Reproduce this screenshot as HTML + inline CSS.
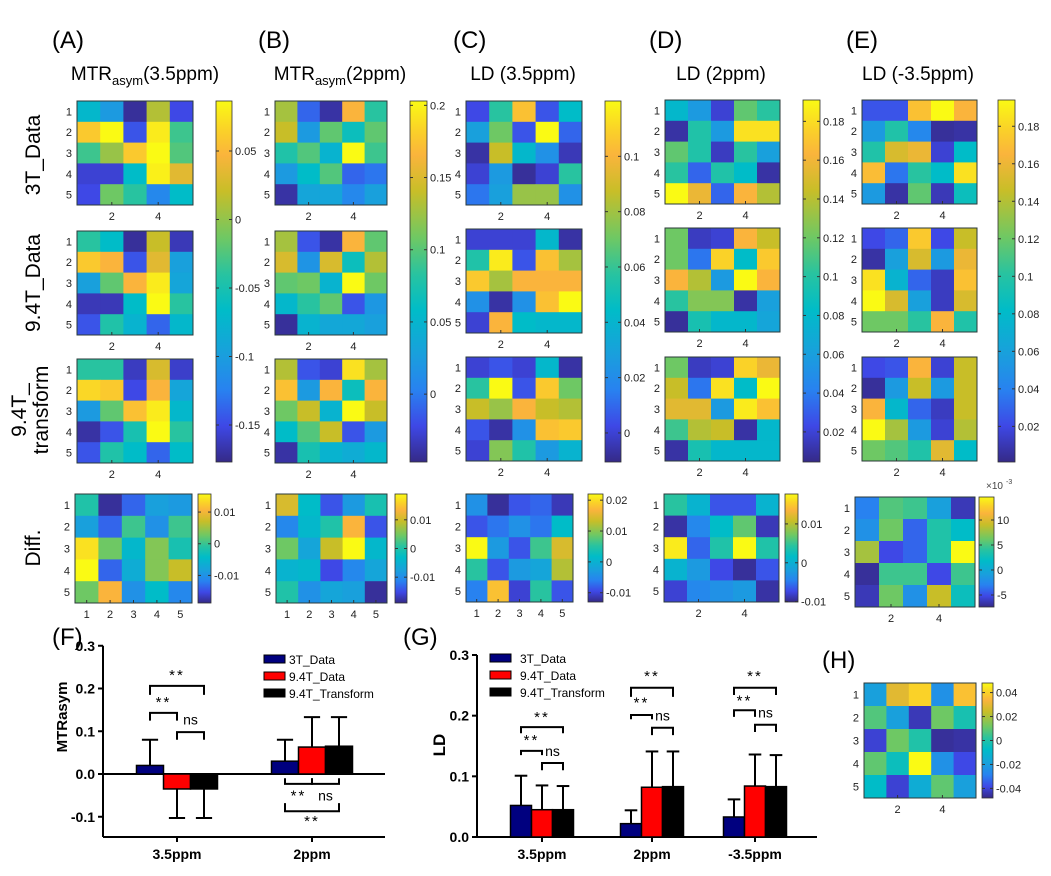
<!DOCTYPE html>
<html><head><meta charset="utf-8"><style>
body{margin:0;background:#fff}
svg{display:block;font-family:"Liberation Sans",Arial,sans-serif}
</style></head><body>
<svg id="fig" width="1051" height="876" viewBox="0 0 1051 876" xmlns="http://www.w3.org/2000/svg">
<rect width="1051" height="876" fill="#fff"/>
<defs><linearGradient id="par" x1="0" y1="1" x2="0" y2="0">
<stop offset="0" stop-color="rgb(53,42,135)"/><stop offset="0.1" stop-color="rgb(62,72,230)"/><stop offset="0.2" stop-color="rgb(40,130,240)"/><stop offset="0.3" stop-color="rgb(25,160,220)"/><stop offset="0.42" stop-color="rgb(0,188,200)"/><stop offset="0.52" stop-color="rgb(40,195,160)"/><stop offset="0.62" stop-color="rgb(110,200,100)"/><stop offset="0.75" stop-color="rgb(200,190,40)"/><stop offset="0.85" stop-color="rgb(250,180,60)"/><stop offset="0.92" stop-color="rgb(250,210,40)"/><stop offset="1" stop-color="rgb(250,250,20)"/>
</linearGradient></defs>
<g font-size="24">
<text x="52" y="48">(A)</text>
<text x="258" y="48">(B)</text>
<text x="453" y="48">(C)</text>
<text x="649" y="48">(D)</text>
<text x="846" y="48">(E)</text>
<text x="52" y="645">(F)</text>
<text x="403" y="645">(G)</text>
<text x="822" y="668">(H)</text>
</g>
<g font-size="19" text-anchor="middle">
<text x="145" y="80">MTR<tspan font-size="13" dy="5">asym</tspan><tspan dy="-5">(3.5ppm)</tspan></text>
<text x="340" y="80">MTR<tspan font-size="13" dy="5">asym</tspan><tspan dy="-5">(2ppm)</tspan></text>
<text x="523" y="80">LD (3.5ppm)</text>
<text x="721" y="80">LD (2ppm)</text>
<text x="918" y="80">LD (-3.5ppm)</text>
</g>
<g font-size="21" text-anchor="middle">
<text transform="translate(40,155) rotate(-90)">3T_Data</text>
<text transform="translate(40,283) rotate(-90)">9.4T_Data</text>
<text transform="translate(26,410) rotate(-90)">9.4T_</text>
<text transform="translate(48,410) rotate(-90)">transform</text>
<text transform="translate(40,548) rotate(-90)">Diff.</text>
</g>
<g id="maps"></g>
<g id="cbars"></g>
<g id="barF"></g>
<g id="barG"></g>
</svg>
<script>
// ---- heatmap data (normalized colour level 0..1) ----
const mapA1=[[.4,.28,.02,.72,.1],[.9,1,.12,.97,.55],[.55,.68,.9,1,.58],[.08,.08,.42,.98,.8],[.1,.62,.52,.22,.42]];
const mapA2=[[.52,.42,.02,.75,.05],[.9,.85,.12,.8,.3],[.3,.6,.85,.97,.32],[.05,.05,.42,1,.52],[.12,.5,.38,.15,.4]];
const mapA3=[[.52,.52,.06,.78,.07],[.93,.9,.1,.85,.32],[.28,.6,.88,.97,.4],[.03,.12,.48,1,.52],[.12,.5,.42,.15,.42]];
const mapB1=[[.7,.15,.03,.85,.52],[.75,.28,.6,.45,.6],[.5,.58,.38,1,.55],[.28,.42,.58,.15,.18],[.03,.32,.32,.22,.3]];
const mapB2=[[.7,.12,.03,.85,.6],[.78,.26,.78,.45,.72],[.6,.62,.38,1,.62],[.4,.52,.6,.12,.27],[.02,.38,.33,.33,.3]];
const mapB3=[[.72,.12,.08,.95,.7],[.88,.28,.85,.45,.85],[.62,.75,.38,1,.75],[.42,.58,.75,.12,.28],[.03,.48,.38,.35,.4]];
const mapC1=[[.1,.52,.88,.12,.42],[.3,.62,.12,1,.15],[.03,.75,.4,.25,.05],[.08,.28,.02,.08,.52],[.18,.3,.68,.68,.25]];
const mapC2=[[.08,.08,.08,.4,.03],[.5,.97,.12,.88,.7],[.9,.7,.85,.85,.85],[.25,.03,.25,.88,1],[.08,.85,.42,.4,.4]];
const mapC3=[[.08,.12,.08,.4,.03],[.52,1,.12,.9,.62],[.75,.68,.85,.75,.72],[.12,.03,.25,.88,.9],[.08,.65,.5,.28,.38]];
const mapD1=[[.4,.28,.08,.6,.52],[.03,.5,.28,.95,.95],[.6,.5,.06,.52,.3],[.52,.15,.5,.42,.03],[1,.82,.15,.85,.72]];
const mapD2=[[.62,.06,.08,.85,.75],[.62,.18,.92,.42,.9],[.85,.72,.28,1,.85],[.52,.65,.65,.03,.3],[.02,.48,.4,.4,.32]];
const mapD3=[[.62,.06,.08,.92,.82],[.75,.18,.95,.42,1],[.8,.8,.28,.97,.88],[.55,.72,.75,.03,.4],[.03,.48,.4,.4,.4]];
const mapE1=[[.12,.12,.88,1,.85],[.28,.5,.22,.02,.03],[.5,.78,.82,.08,.42],[.87,.18,.52,.42,.95],[.28,.03,.6,.05,.45]];
const mapE2=[[.1,.15,.9,.1,.75],[.03,.3,.78,.28,.82],[.95,.38,.15,.06,.88],[1,.78,.3,.06,.78],[.62,.62,.52,.85,.5]];
const mapE3=[[.1,.12,.85,.08,.75],[.02,.28,.75,.28,.75],[.85,.4,.15,.06,.75],[1,.7,.28,.08,.72],[.62,.58,.5,.8,.42]];
const diffA=[[.5,.02,.15,.3,.28],[.3,.15,.55,.25,.55],[.95,.62,.4,.65,.48],[1,.15,.35,.65,.75],[.62,.85,.25,.42,.22]];
const diffB=[[.78,.42,.12,.28,.48],[.22,.4,.5,.85,.12],[.62,.32,.75,1,.4],[.38,.4,.1,.22,.32],[.5,.25,.32,.3,.02]];
const diffC=[[.25,.02,.12,.15,.05],[.12,.18,.25,.18,.42],[1,.28,.12,.55,.78],[.52,.12,.28,.32,.72],[.2,.88,.08,.52,.12]];
const diffD=[[.52,.38,.12,.12,.38],[.03,.22,.42,.6,.05],[.97,.15,.5,1,.5],[.38,.28,.1,.02,.12],[.08,.22,.25,.28,.03]];
const diffE=[[.2,.58,.55,.3,.05],[.25,.62,.15,.5,.42],[.7,.1,.15,.5,1],[.02,.55,.55,.1,.55],[.05,.62,.25,.75,.45]];
const mapH=[[.3,.8,.92,.25,.88],[.58,.3,.05,.62,.48],[.08,.62,.5,.02,.03],[.6,.45,1,.25,.1],[.42,.08,.35,.6,.3]];
// ---- colorbar ranges & ticks ----
const cbRangeA=[-0.177,0.0865], cbTicksA=[0.05,0,-0.05,-0.1,-0.15], cbLabelsA=["0.05","0","-0.05","-0.1","-0.15"];
const cbRangeB=[-0.047,0.203], cbTicksB=[0.2,0.15,0.1,0.05,0], cbLabelsB=["0.2","0.15","0.1","0.05","0"];
const cbRangeC=[-0.0105,0.12], cbTicksC=[0.1,0.08,0.06,0.04,0.02,0], cbLabelsC=["0.1","0.08","0.06","0.04","0.02","0"];
const cbRangeD=[0.0045,0.191], cbTicksD=[0.18,0.16,0.14,0.12,0.1,0.08,0.06,0.04,0.02], cbLabelsD=["0.18","0.16","0.14","0.12","0.1","0.08","0.06","0.04","0.02"];
const cbRangeE=[0.001,0.194], cbTicksE=cbTicksD, cbLabelsE=cbLabelsD;
const cbRangeDA=[-0.0187,0.0157], cbTicksDA=[0.01,0,-0.01], cbLabelsDA=["0.01","0","-0.01"];
const cbRangeDB=[-0.019,0.019], cbTicksDB=[0.01,0,-0.01], cbLabelsDB=cbLabelsDA;
const cbRangeDC=[-0.013,0.022], cbTicksDC=[0.02,0.01,0,-0.01], cbLabelsDC=["0.02","0.01","0","-0.01"];
const cbRangeDD=[-0.0101,0.0177], cbTicksDD=[0.01,0,-0.01], cbLabelsDD=cbLabelsDA;
const cbRangeDE=[-7.4,14.6], cbTicksDE=[10,5,0,-5], cbLabelsDE=["10","5","0","-5"];
const cbRangeH=[-0.048,0.048], cbTicksH=[0.04,0.02,0,-0.02,-0.04], cbLabelsH=["0.04","0.02","0","-0.02","-0.04"];
// ---- bar chart data ----
const catsF=["3.5ppm","2ppm"];
const f3T=[0.02,0.03], f94=[-0.035,0.063], f94T=[-0.035,0.065];
const fErr3T=[0.06,0.05], fErr94=[0.068,0.07], fErr94T=[0.068,0.068];
const ticksF=[0.3,0.2,0.1,0,-0.1], tickLabelsF=["0.3","0.2","0.1","0.0","-0.1"];
const catsG=["3.5ppm","2ppm","-3.5ppm"];
const g3T=[0.052,0.022,0.033], g94=[0.045,0.082,0.084], g94T=[0.045,0.083,0.083];
const gErr3T=[0.049,0.022,0.029], gErr94=[0.04,0.059,0.052], gErr94T=[0.039,0.058,0.052];
const ticksG=[0.3,0.2,0.1,0], tickLabelsG=["0.3","0.2","0.1","0.0"];
const seriesNames=["3T_Data","9.4T_Data","9.4T_Transform"];
// significance: [group, fromBar, toBar, bracketValue, legValue, labelValue, label]
const sigF=[[0,0,2,0.206,0.185,0.232,"**"],[0,0,1,0.143,0.125,0.168,"**"],[0,1,2,0.098,0.08,0.128,"ns"],
 [1,0,1,-0.023,-0.01,-0.05,"**"],[1,1,2,-0.023,-0.01,-0.05,"ns"],[1,0,2,-0.087,-0.068,-0.11,"**"]];
const sigG=[[0,0,2,0.181,0.171,0.198,"**"],[0,0,1,0.142,0.135,0.16,"**"],[0,1,2,0.122,0.11,0.142,"ns"],
 [1,0,2,0.246,0.231,0.265,"**"],[1,0,1,0.201,0.194,0.222,"**"],[1,1,2,0.18,0.168,0.2,"ns"],
 [2,0,2,0.246,0.234,0.265,"**"],[2,0,1,0.209,0.198,0.225,"**"],[2,1,2,0.185,0.173,0.205,"ns"]];

const NS="http://www.w3.org/2000/svg";
function mk(tag,attrs,parent){const e=document.createElementNS(NS,tag);for(const k in attrs)e.setAttribute(k,attrs[k]);parent.appendChild(e);return e;}
const stops=[[0,[53,42,135]],[.1,[62,72,230]],[.2,[40,130,240]],[.3,[25,160,220]],[.42,[0,188,200]],[.52,[40,195,160]],[.62,[110,200,100]],[.75,[200,190,40]],[.85,[250,180,60]],[.92,[250,210,40]],[1,[250,250,20]]];
function parula(t){t=Math.max(0,Math.min(1,t));for(let i=1;i<stops.length;i++){if(t<=stops[i][0]){const a=stops[i-1],b=stops[i],f=(t-a[0])/(b[0]-a[0]);return "rgb("+a[1].map((v,j)=>Math.round(v+(b[1][j]-v)*f)).join(",")+")";}}return "rgb(250,250,20)";}

const maps=document.getElementById('maps');
function heatmap(name,data,x,y,w,h,xt){
 const g=mk('g',{},maps);
 
 
 const cw=w/5,ch=h/5;
 data.forEach((row,r)=>row.forEach((v,c)=>{
  const cell=mk('rect',{x:x+c*cw,y:y+r*ch,width:cw+0.5,height:ch+0.5,fill:parula(v)},g);
  
  
 }));
 mk('rect',{x:x,y:y,width:w,height:h,fill:'none',stroke:'#2b3a3a','stroke-width':1},g);
 for(let r=0;r<5;r++){const t=mk('text',{x:x-5,y:y+(r+.5)*ch+4,'font-size':11,'text-anchor':'end',fill:'#222'},g);t.textContent=r+1;}
 const cols=xt==='all'?[1,2,3,4,5]:[2,4];
 cols.forEach(c=>{const t=mk('text',{x:x+(c-.5)*cw,y:y+h+15,'font-size':11,'text-anchor':'middle',fill:'#222'},g);t.textContent=c;
  mk('line',{x1:x+(c-.5)*cw,x2:x+(c-.5)*cw,y1:y+h,y2:y+h-3,stroke:'#333'},g);});
}
const rowsAB=[101,231,359], rowsC=[101,229,357], rowsDE=[100,228,357];
[[mapA1,mapA2,mapA3,77,116,rowsAB,'a'],[mapB1,mapB2,mapB3,275,112,rowsAB,'b'],[mapC1,mapC2,mapC3,466,116,rowsC,'c'],[mapD1,mapD2,mapD3,665,115,rowsDE,'d'],[mapE1,mapE2,mapE3,862,115,rowsDE,'e']].forEach(p=>{
 for(let i=0;i<3;i++)heatmap('heatmap-'+p[6]+'-row'+(i+1),p[i],p[3],p[5][i],p[4],104,'two');
});
heatmap('diff-heatmap-a',diffA,75,494,117,109,'all');
heatmap('diff-heatmap-b',diffB,276,494,111,109,'all');
heatmap('diff-heatmap-c',diffC,466,494,107,108,'all');
heatmap('diff-heatmap-d',diffD,664,494,115,108,'two');
heatmap('diff-heatmap-e',diffE,855,497,120,110,'two');
heatmap('heatmap-h',mapH,864,683,112,115,'two');

const cbars=document.getElementById('cbars');
function colorbar(name,x,y,w,h,range,ticks,labels){
 const g=mk('g',{},cbars);
 
 
 mk('rect',{x:x,y:y,width:w,height:h,fill:'url(#par)',stroke:'#333','stroke-width':0.8},g);
 ticks.forEach((v,i)=>{const ty=y+h-(v-range[0])/(range[1]-range[0])*h;
  mk('line',{x1:x+w,x2:x+w-3,y1:ty,y2:ty,stroke:'#333'},g);mk('line',{x1:x,x2:x+3,y1:ty,y2:ty,stroke:'#333'},g);
  const t=mk('text',{x:x+w+3,y:ty+4,'font-size':11,fill:'#222'},g);t.textContent=labels[i];});
}
colorbar('colorbar-a',216,101,16,361,cbRangeA,cbTicksA,cbLabelsA);
colorbar('colorbar-b',410,101,17,361,cbRangeB,cbTicksB,cbLabelsB);
colorbar('colorbar-c',605,101,16,361,cbRangeC,cbTicksC,cbLabelsC);
colorbar('colorbar-d',803,100,17,362,cbRangeD,cbTicksD,cbLabelsD);
colorbar('colorbar-e',998,100,17,362,cbRangeE,cbTicksE,cbLabelsE);
colorbar('colorbar-diff-a',198,494,13,109,cbRangeDA,cbTicksDA,cbLabelsDA);
colorbar('colorbar-diff-b',395,494,12,109,cbRangeDB,cbTicksDB,cbLabelsDB);
colorbar('colorbar-diff-c',588,494,15,108,cbRangeDC,cbTicksDC,cbLabelsDC);
colorbar('colorbar-diff-d',785,494,13,108,cbRangeDD,cbTicksDD,cbLabelsDD);
colorbar('colorbar-diff-e',979,497,15,110,cbRangeDE,cbTicksDE,cbLabelsDE);
colorbar('colorbar-h',982,683,11,115,cbRangeH,cbTicksH,cbLabelsH);
{const t=mk('text',{x:986,y:489,'font-size':10,fill:'#444'},cbars);t.textContent='×10';const s=mk('text',{x:1006,y:484,'font-size':7,fill:'#444'},cbars);s.textContent='-3';}

// ---- bar charts ----
const colors=["#00007f","#ff0000","#000000"];
function barChart(gid,cfg){
 const g=document.getElementById(gid);
 const Y=v=>cfg.y0-v*cfg.k;
 const bx=(gi,bi)=>cfg.centers[gi]+(bi-1)*cfg.bw;
 mk('line',{x1:cfg.ax,x2:cfg.ax,y1:Y(cfg.top),y2:cfg.bottom,stroke:'#000','stroke-width':2},g);
 mk('line',{x1:cfg.ax,x2:cfg.xend,y1:cfg.bottom,y2:cfg.bottom,stroke:'#000','stroke-width':2},g);
 if(cfg.zeroLine)mk('line',{x1:cfg.ax,x2:cfg.xend,y1:Y(0),y2:Y(0),stroke:'#000','stroke-width':2},g);
 cfg.ticks.forEach((v,i)=>{mk('line',{x1:cfg.ax-5,x2:cfg.ax,y1:Y(v),y2:Y(v),stroke:'#000','stroke-width':2},g);
  const t=mk('text',{x:cfg.ax-8,y:Y(v)+5,'font-size':14,'font-weight':'bold','text-anchor':'end'},g);t.textContent=cfg.tickLabels[i];});
 cfg.cats.forEach((c,i)=>{mk('line',{x1:cfg.centers[i],x2:cfg.centers[i],y1:cfg.bottom,y2:cfg.bottom+5,stroke:'#000','stroke-width':2},g);
  const t=mk('text',{x:cfg.centers[i],y:cfg.bottom+22,'font-size':14,'font-weight':'bold','text-anchor':'middle'},g);t.textContent=c;});
 const yt=mk('text',{transform:`translate(${cfg.ytx},${cfg.yty}) rotate(-90)`,'font-size':cfg.ytSize,'font-weight':'bold','text-anchor':'middle'},g);yt.textContent=cfg.ytitle;
 cfg.series.forEach((s,si)=>{s.forEach((v,gi)=>{
  const x=bx(gi,si)-cfg.bw/2, e=cfg.errs[si][gi], sign=v<0?-1:1;
  const tipY=Y(v+sign*e);
  mk('line',{x1:bx(gi,si),x2:bx(gi,si),y1:Y(v),y2:tipY,stroke:'#000','stroke-width':2},g);
  mk('line',{x1:bx(gi,si)-cfg.bw*0.3,x2:bx(gi,si)+cfg.bw*0.3,y1:tipY,y2:tipY,stroke:'#000','stroke-width':2},g);
  const r=mk('rect',{x:x,y:Math.min(Y(v),Y(0)),width:cfg.bw,height:Math.abs(Y(v)-Y(0)),fill:colors[si],stroke:'#000','stroke-width':1.5},g);
  
  
 });});
 cfg.sig.forEach(s=>{const x1=bx(s[0],s[1]),x2=bx(s[0],s[2]);
  mk('path',{d:`M${x1},${Y(s[4])}V${Y(s[3])}H${x2}V${Y(s[4])}`,fill:'none',stroke:'#000','stroke-width':2},g);
  const t=mk('text',{x:(x1+x2)/2,y:Y(s[5])+5,'font-size':s[6]==='ns'?14:15,'text-anchor':'middle','letter-spacing':s[6]==='**'?2:0},g);t.textContent=s[6];});
 seriesNames.forEach((n,i)=>{const ly=cfg.legY+i*17;
  const sw=mk('rect',{x:cfg.legX,y:ly-4,width:21,height:8,fill:colors[i],stroke:'#000','stroke-width':1},g);
  
  
  const t=mk('text',{x:cfg.legX+cfg.legTx,y:ly+5,'font-size':12},g);t.textContent=n;
  
  });
}
barChart('barF',{y0:774,k:427.5,top:0.3,bottom:837,ax:103,xend:385,zeroLine:true,centers:[177,312],bw:27,
 ticks:ticksF,tickLabels:tickLabelsF,cats:catsF,series:[f3T,f94,f94T],errs:[fErr3T,fErr94,fErr94T],sig:sigF,
 ytitle:"MTRasym",ytx:67,yty:717,ytSize:15,legX:264,legY:659,legTx:25});
barChart('barG',{y0:837,k:606.7,top:0.3,bottom:837,ax:477,xend:817,zeroLine:false,centers:[542,652,755],bw:21,
 ticks:ticksG,tickLabels:tickLabelsG,cats:catsG,series:[g3T,g94,g94T],errs:[gErr3T,gErr94,gErr94T],sig:sigG,
 ytitle:"LD",ytx:445,yty:745,ytSize:17,legX:490,legY:658,legTx:30});
</script>
</body></html>
